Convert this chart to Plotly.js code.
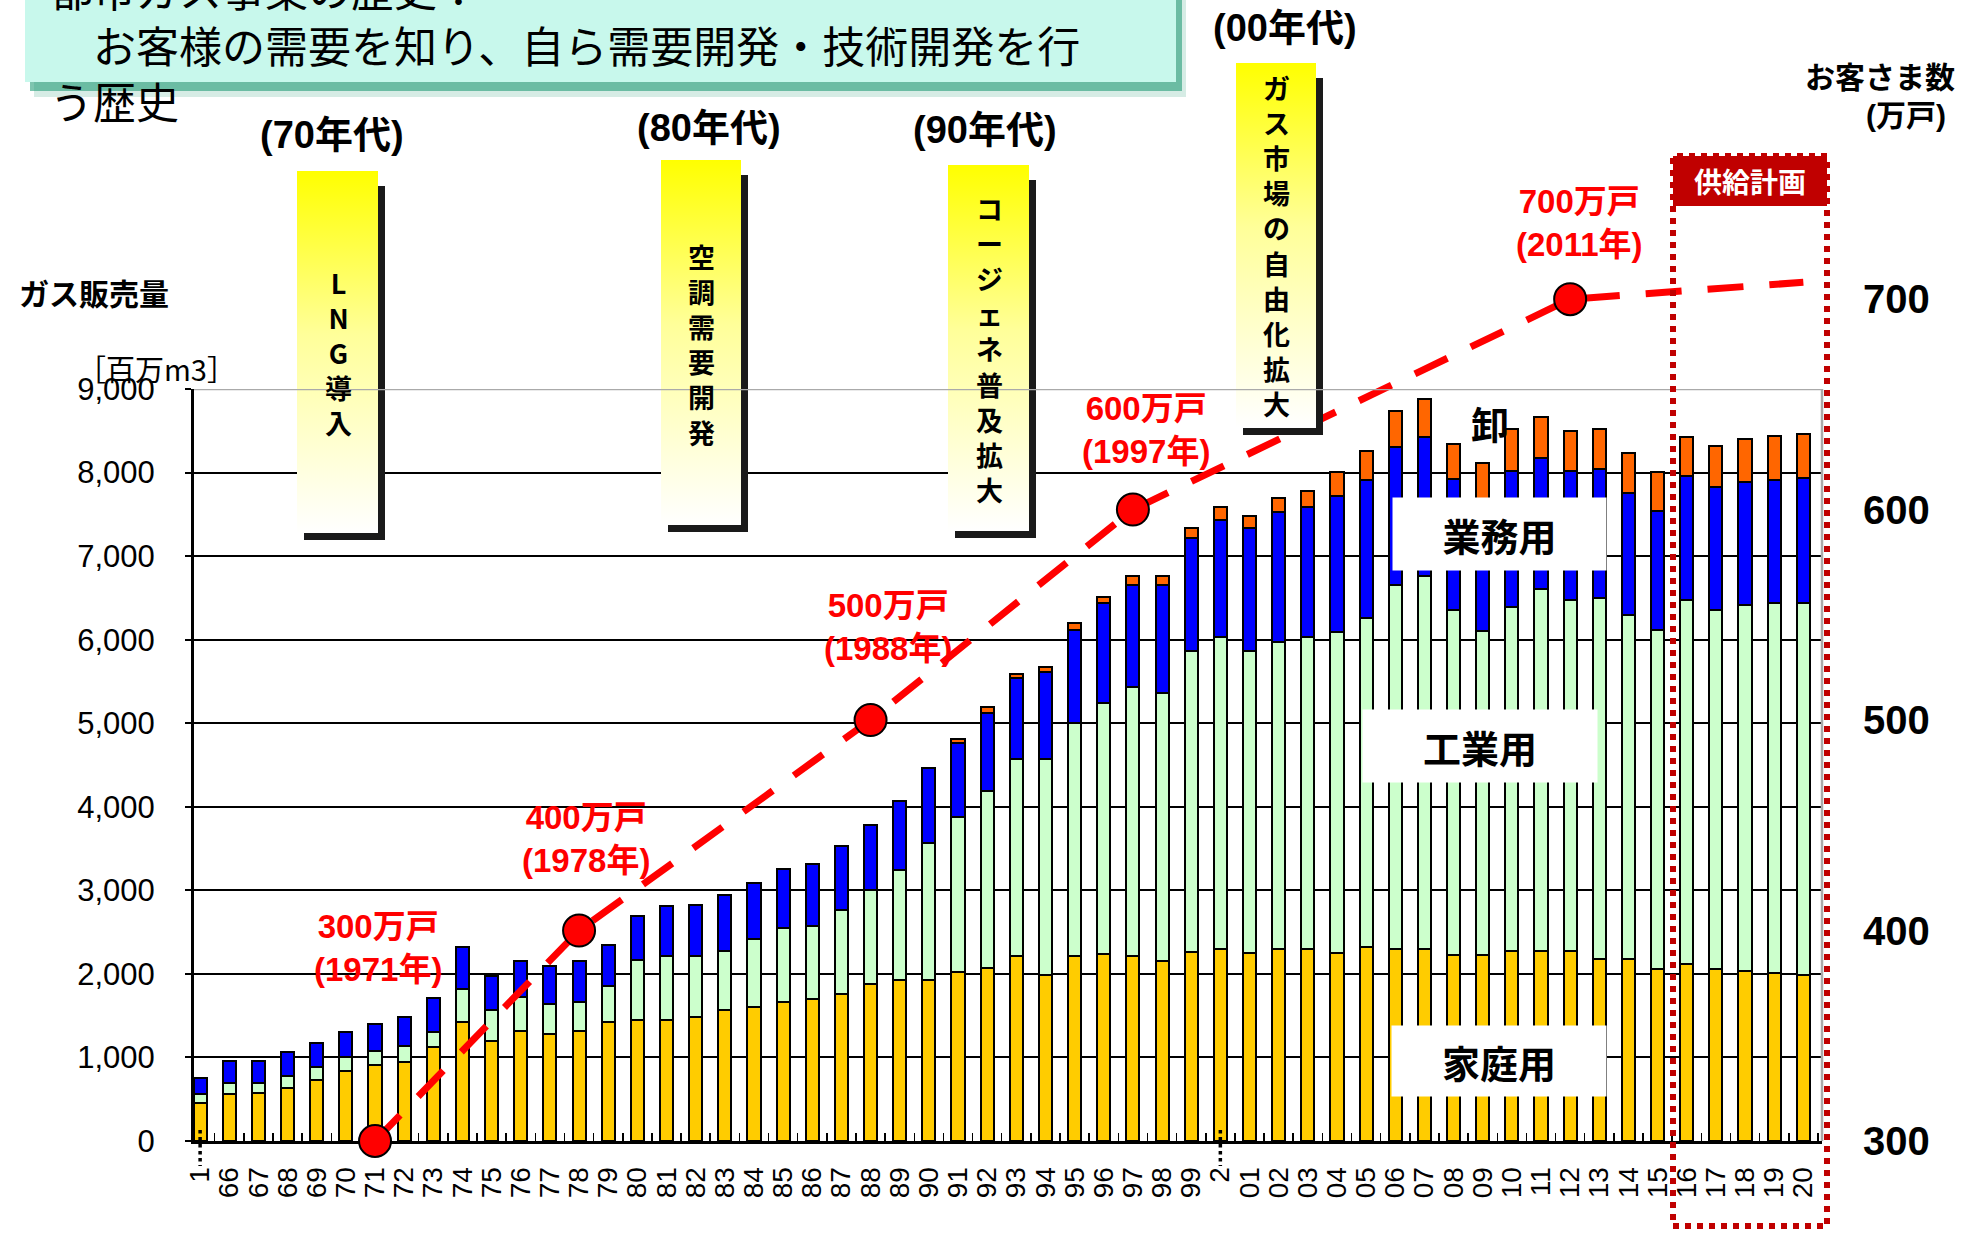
<!DOCTYPE html>
<html>
<head>
<meta charset="utf-8">
<script src="https://cdn.plot.ly/plotly-3.0.1.min.js"></script>
<style>
html,body{margin:0;padding:0;background:#ffffff;}
#chart{width:1962px;height:1234px;}
</style>
</head>
<body>
<div id="chart"></div>
<script>
// ---------------- DATA ----------------
const years = ["1","66","67","68","69","70","71","72","73","74","75","76","77","78","79",
  "80","81","82","83","84","85","86","87","88","89","90","91","92","93","94","95","96","97","98","99",
  "2","01","02","03","04","05","06","07","08","09","10","11","12","13","14","15","16","17","18","19","20"];
// ガス販売量 [百万m3]
const household  = [450,560,580,640,725,840,910,945,1120,1420,1200,1315,1285,1315,1420,
  1450,1450,1480,1570,1600,1660,1705,1765,1885,1930,1930,2020,2065,2215,1990,2215,2235,2215,2155,2265,
  2295,2245,2295,2295,2245,2325,2295,2295,2230,2230,2270,2270,2270,2180,2180,2060,2120,2060,2030,2015,1990];
const industrial = [110,130,110,140,155,165,170,195,190,405,370,405,350,345,435,
  720,765,735,705,815,885,870,1005,1115,1315,1635,1855,2120,2355,2580,2785,3005,3220,3205,3605,
  3735,3620,3680,3735,3845,3930,4365,4465,4130,3875,4120,4340,4210,4320,4120,4060,4350,4300,4380,4425,4450];
const commercial = [190,265,265,280,290,305,315,340,400,500,405,435,460,495,490,
  525,600,615,670,670,705,735,760,785,825,895,885,935,970,1045,1120,1195,1225,1300,1345,
  1405,1470,1550,1555,1630,1660,1650,1665,1565,1555,1625,1570,1535,1545,1460,1415,1485,1465,1475,1475,1490];
const wholesale  = [0,0,0,0,0,0,0,0,0,0,0,0,0,0,0,
  0,0,0,0,0,0,0,0,0,0,0,50,75,50,55,80,80,105,105,120,
  150,140,170,190,285,340,425,455,420,455,510,490,480,480,470,475,465,495,520,520,530];
const seriesNames = ["家庭用","工業用","業務用","卸"];
// お客さま数 [万戸]
const custYears  = ["71","78","88","97","12","20"];
const custValues = [300,400,500,600,700,708];
const milestoneYears  = ["71","78","88","97","12"];
const milestoneValues = [300,400,500,600,700];
const leftTicks  = [0,1000,2000,3000,4000,5000,6000,7000,8000,9000];
const rightTicks = [300,400,500,600,700];
const breakYears = ["1","2"];

// ---------------- GEOMETRY HELPERS ----------------
const W = 1962, H = 1234, L = 194, R = 40, T = 100, B = 93;
const PW = W - L - R, PH = H - T - B, BOTTOM = H - B;
function px(x){ return (x - L) / PW; }
function py(y){ return (BOTTOM - y) / PH; }

const JP = "Noto Sans CJK JP, sans-serif";
const LAT = "Liberation Sans, Arial, Noto Sans CJK JP, sans-serif";

// ---------------- TRACES ----------------
const colors = ["#FFCC00", "#CCFFCC", "#0000FF", "#FF6600"];
const seriesData = [household, industrial, commercial, wholesale];
const traces = seriesData.map((vals, k) => ({
  type: "bar", name: seriesNames[k], x: years, y: vals,
  xaxis: "x", yaxis: "y",
  marker: {color: colors[k], line: {color: "#000000", width: 2}},
  hoverinfo: "skip", showlegend: false
}));
traces.push({
  type: "scatter", mode: "lines", name: "お客さま数",
  x: custYears, y: custValues, xaxis: "x", yaxis: "y2",
  line: {color: "#FF0000", width: 7, dash: "36px,26px"},
  hoverinfo: "skip", showlegend: false, cliponaxis: false
});
traces.push({
  type: "scatter", mode: "markers", name: "お客さま数",
  x: milestoneYears, y: milestoneValues, xaxis: "x", yaxis: "y2",
  marker: {color: "#FF0000", size: 32, line: {color: "#000000", width: 2}},
  hoverinfo: "skip", showlegend: false, cliponaxis: false
});

// ---------------- DECORATION ----------------
function gradBox(x0, y0, x1, y1){
  const w = x1 - x0, h = y1 - y0, off = 7;
  const svg = '<svg xmlns="http://www.w3.org/2000/svg" width="' + (w+off) + '" height="' + (h+off) + '">' +
    '<defs><linearGradient id="g" x1="0" y1="0" x2="0" y2="1">' +
    '<stop offset="0" stop-color="#FFFF00"/><stop offset="0.45" stop-color="#FFFF99"/>' +
    '<stop offset="1" stop-color="#FFFFFF"/></linearGradient></defs>' +
    '<rect x="' + off + '" y="' + (off+8) + '" width="' + w + '" height="' + (h-8) + '" fill="#1a1a1a"/>' +
    '<rect x="0" y="0" width="' + w + '" height="' + h + '" fill="url(#g)"/></svg>';
  return {
    source: "data:image/svg+xml;base64," + btoa(svg),
    xref: "paper", yref: "paper", x: px(x0), y: py(y0),
    sizex: (w + off) / PW, sizey: (h + off) / PH,
    xanchor: "left", yanchor: "top", sizing: "stretch", layer: "above"
  };
}
const images = [
  gradBox(297, 171, 378, 533),
  gradBox(661, 160, 741, 525),
  gradBox(948, 165, 1029, 531),
  gradBox(1236, 63, 1316, 428)
];

function ann(text, x, y, size, opts){
  return Object.assign({
    text: text, xref: "paper", yref: "paper", x: px(x), y: py(y),
    xanchor: "center", yanchor: "middle", showarrow: false,
    font: {family: JP, size: size, color: "#000000"}
  }, opts || {});
}
const bold = (size, color, fam) => ({family: fam || JP, size: size, color: color || "#000000", weight: "bold"});
// vertical (tategaki) label: characters stacked one per line
const vert = s => Array.from(s).join("<br>");

const annotations = [
  // heading
  ann("都市ガス事業の歴史：<br>　お客様の需要を知り、自ら需要開発・技術開発を行<br>う歴史",
      48, 0, 43, {xanchor: "left", yanchor: "top", align: "left", y: py(-45)}),
  // decades
  ann("(70年代)", 332, 135, 38, {font: bold(38, "#000", LAT)}),
  ann("(80年代)", 709, 128, 38, {font: bold(38, "#000", LAT)}),
  ann("(90年代)", 985, 130, 38, {font: bold(38, "#000", LAT)}),
  ann("(00年代)", 1285, 28, 38, {font: bold(38, "#000", LAT)}),
  // decade themes (vertical)
  ann(vert("LNG導入"), 338, 352, 27, {font: bold(27)}),
  ann(vert("空調需要開発"), 701, 344, 27, {font: bold(27)}),
  ann(vert("コージェネ普及拡大"), 989, 349, 27, {font: bold(27)}),
  ann(vert("ガス市場の自由化拡大"), 1276, 246, 27, {font: bold(27)}),
  // milestones
  ann("300万戸<br>(1971年)", 378, 948, 33, {font: bold(33, "#FF0000", LAT)}),
  ann("400万戸<br>(1978年)", 586, 839, 33, {font: bold(33, "#FF0000", LAT)}),
  ann("500万戸<br>(1988年)", 888, 627, 33, {font: bold(33, "#FF0000", LAT)}),
  ann("600万戸<br>(1997年)", 1146, 430, 33, {font: bold(33, "#FF0000", LAT)}),
  ann("700万戸<br>(2011年)", 1579, 223, 33, {font: bold(33, "#FF0000", LAT)}),
  // series labels
  ann("卸", 1490, 422, 38, {font: bold(38)}),
  ann("業務用", 1499, 534, 38, {font: bold(38), bgcolor: "#FFFFFF", width: 211, height: 70}),
  ann("工業用", 1480, 746, 38, {font: bold(38), bgcolor: "#FFFFFF", width: 232, height: 70}),
  ann("家庭用", 1499, 1061, 38, {font: bold(38), bgcolor: "#FFFFFF", width: 212, height: 68}),
  // plan box header
  ann("供給計画", 1750, 181, 28, {font: bold(28, "#FFFFFF")}),
  // axis titles
  ann("ガス販売量", 94, 292, 30, {font: bold(30)}),
  ann("［百万m3］", 156, 368, 29),
  ann("お客さま数", 1880, 75, 30, {font: bold(30)}),
  ann("(万戸)", 1906, 116, 30, {font: bold(30, "#000", LAT)})
];

const shapes = [
  // heading box with shadow
  {type: "rect", xref: "paper", yref: "paper", x0: px(34), x1: px(1186), y0: py(-20), y1: py(97),
   fillcolor: "rgba(30,150,110,0.18)", line: {width: 0}, layer: "above"},
  {type: "rect", xref: "paper", yref: "paper", x0: px(30), x1: px(1182), y0: py(-20), y1: py(91),
   fillcolor: "rgba(20,150,110,0.55)", line: {width: 0}, layer: "above"},
  {type: "rect", xref: "paper", yref: "paper", x0: px(25), x1: px(1176), y0: py(-20), y1: py(82),
   fillcolor: "#C8F8EC", line: {width: 0}, layer: "above"},
  // plot frame (grey top and right)
  {type: "line", xref: "paper", yref: "y", x0: 0, x1: px(1822), y0: 9000, y1: 9000,
   line: {color: "#AAAAAA", width: 2.5}, layer: "above"},
  {type: "line", xref: "paper", yref: "y", x0: px(1822), x1: px(1822), y0: 0, y1: 9000,
   line: {color: "#AAAAAA", width: 2.5}, layer: "above"},
  // supply plan
  {type: "rect", xref: "paper", yref: "paper", x0: px(1673), x1: px(1827), y0: py(206), y1: py(156),
   fillcolor: "#C00000", line: {width: 0}, layer: "above"},
  {type: "rect", xref: "paper", yref: "paper", x0: px(1673), x1: px(1827), y0: py(1226), y1: py(156),
   fillcolor: "rgba(0,0,0,0)", line: {color: "#C00000", width: 6, dash: "dot"}, layer: "above"}
].concat(breakYears.map(c => ({
  // axis break marks (⋮) below the broken categories
  type: "line", xref: "x", yref: "paper", x0: years.indexOf(c), x1: years.indexOf(c),
  y0: py(1130), y1: py(1166), line: {color: "#000000", width: 3.5, dash: "dot"}, layer: "above"
})));

const layout = {
  width: W, height: H,
  margin: {l: L, r: R, t: T, b: B, pad: 0},
  paper_bgcolor: "#FFFFFF", plot_bgcolor: "rgba(0,0,0,0)",
  barmode: "stack", bargap: 0.55,
  showlegend: false,
  font: {family: LAT, color: "#000000"},
  xaxis: {
    type: "category", domain: [0, px(1822)], range: [-0.21, 55.64], anchor: "y",
    tickmode: "array", tickvals: years, ticktext: years,
    tickangle: -90, tickfont: {family: LAT, size: 28, color: "#000000"},
    ticklabelstandoff: 12,
    showline: true, linecolor: "#000000", linewidth: 3,
    ticks: "inside", tickson: "boundaries", ticklen: 8, tickwidth: 1.5, tickcolor: "#000000",
    showgrid: false, zeroline: false, automargin: false, fixedrange: true
  },
  yaxis: {
    domain: [0, py(389)], range: [0, 9000], anchor: "x",
    tickvals: leftTicks, tickformat: ",d",
    tickfont: {family: LAT, size: 31, color: "#000000"},
    showgrid: true, gridcolor: "#000000", gridwidth: 2,
    showline: true, linecolor: "#000000", linewidth: 3,
    ticks: "outside", ticklen: 6, tickwidth: 2, tickcolor: "#000000",
    ticklabelstandoff: 24,
    zeroline: false, automargin: false, fixedrange: true
  },
  yaxis2: {
    domain: [0, py(236)], range: [300, 730], anchor: "free", position: px(1862), side: "right",
    tickvals: rightTicks,
    tickfont: {family: LAT, size: 40, color: "#000000", weight: "bold"},
    showgrid: false, showline: false, zeroline: false, ticks: "",
    automargin: false, fixedrange: true
  },
  annotations: annotations,
  shapes: shapes,
  images: images
};

Plotly.newPlot("chart", traces, layout, {displayModeBar: false, staticPlot: true});
</script>
</body>
</html>
